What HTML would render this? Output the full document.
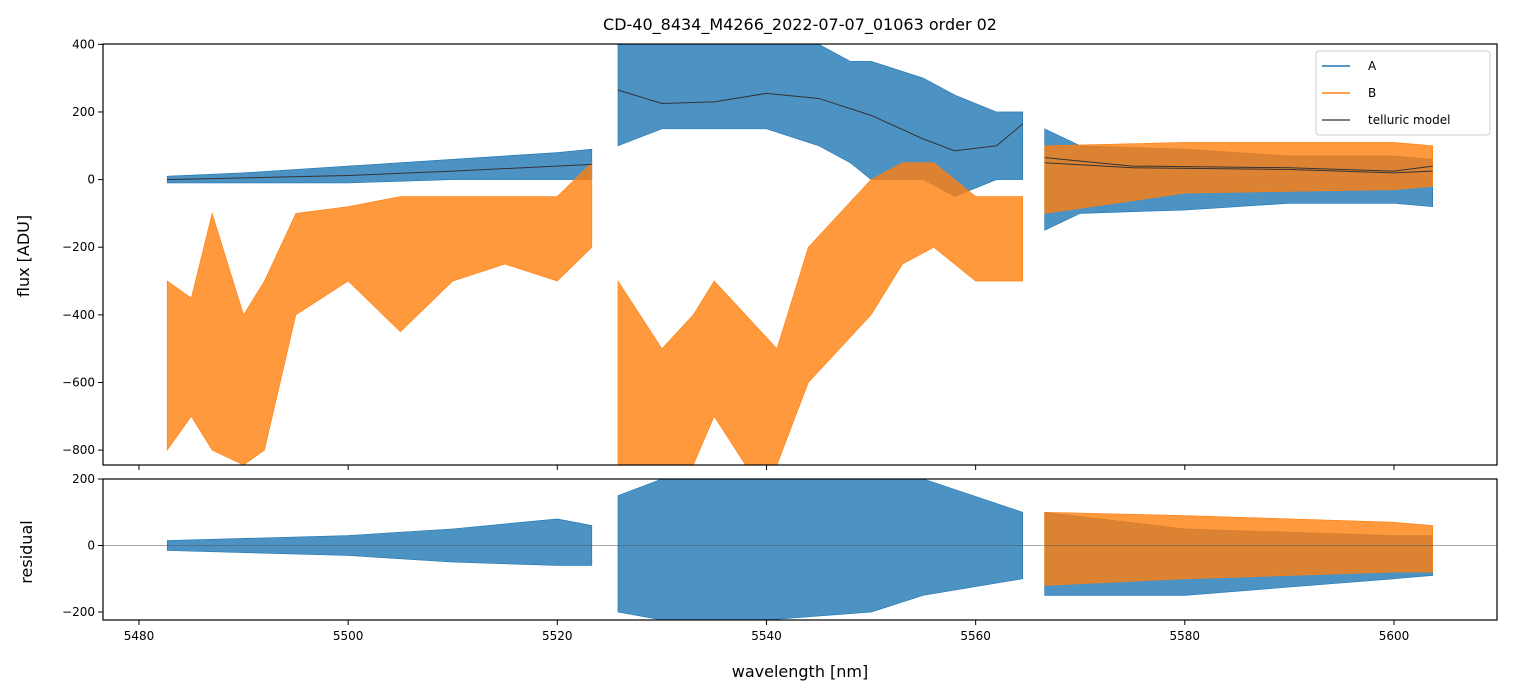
<!DOCTYPE html>
<html><head><meta charset="utf-8"><style>
body{margin:0;background:#fff;font-family:"Liberation Sans","DejaVu Sans",sans-serif}
svg{display:block}
text{font-family:"DejaVu Sans","Liberation Sans",sans-serif}
</style></head><body>
<svg id="c" width="1513" height="696">
<text x="800" y="30" text-anchor="middle" font-size="16">CD-40_8434_M4266_2022-07-07_01063  order 02</text>
<text x="800" y="677" text-anchor="middle" font-size="16">wavelength [nm]</text>
<text transform="translate(29,256) rotate(-90)" text-anchor="middle" font-size="16">flux [ADU]</text>
<text transform="translate(32,552) rotate(-90)" text-anchor="middle" font-size="16">residual</text>
</svg>
<script>
// ---- data ----
const xTicks=[5480,5500,5520,5540,5560,5580,5600];
const yTicksTop=[400,200,0,-200,-400,-600,-800];
const yTicksBot=[200,0,-200];
// envelopes: [wavelength, low, high]
const aTop=[
 [[5482.7,-10,10],[5490,-10,20],[5500,-10,40],[5510,0,60],[5520,0,80],[5523.3,0,90]],
 [[5525.8,100,400],[5530,150,400],[5535,150,400],[5540,150,400],[5545,100,400],[5548,50,350],[5550,0,350],[5555,0,300],[5558,-50,250],[5562,0,200],[5564.5,0,200]],
 [[5566.6,-150,150],[5570,-100,100],[5580,-90,90],[5590,-70,70],[5600,-70,70],[5603.7,-80,60]]
];
const bTop=[
 [[5482.7,-800,-300],[5485,-700,-350],[5487,-800,-100],[5490,-844,-400],[5492,-800,-300],[5495,-400,-100],[5500,-300,-80],[5505,-450,-50],[5510,-300,-50],[5515,-250,-50],[5520,-300,-50],[5523.3,-200,50]],
 [[5525.8,-844,-300],[5530,-844,-500],[5533,-844,-400],[5535,-700,-300],[5538,-844,-400],[5541,-844,-500],[5544,-600,-200],[5547,-500,-100],[5550,-400,0],[5553,-250,50],[5556,-200,50],[5560,-300,-50],[5564.5,-300,-50]],
 [[5566.6,-100,100],[5580,-40,110],[5600,-30,110],[5603.7,-20,100]]
];
const modelLines=[
 [[5482.7,0],[5500,12],[5510,25],[5523.3,45]],
 [[5525.8,265],[5530,225],[5535,230],[5540,255],[5545,240],[5550,190],[5555,120],[5558,85],[5562,100],[5564.5,165]],
 [[5566.6,65],[5575,40],[5590,35],[5600,25],[5603.7,40]],
 [[5566.6,50],[5575,35],[5590,30],[5600,20],[5603.7,25]]
];
const aRes=[
 [[5482.7,-15,15],[5500,-30,30],[5510,-50,50],[5520,-60,80],[5523.3,-60,60]],
 [[5525.8,-200,150],[5530,-224,200],[5540,-224,200],[5550,-200,200],[5555,-150,200],[5564.5,-100,100]],
 [[5566.6,-150,100],[5580,-150,50],[5600,-100,30],[5603.7,-90,30]]
];
const bRes=[
 [[5566.6,-120,100],[5580,-100,90],[5600,-80,70],[5603.7,-80,60]]
];
// ---- axes ----
const X0=103,X1=1497,xmin=5476.56,xmax=5609.85;
const T0=44,T1=465,tmin=-844,tmax=401;
const B0=479,B1=620,bmin=-224,bmax=200;
const sx=v=>X0+(v-xmin)/(xmax-xmin)*(X1-X0);
const st=v=>T1-(v-tmin)/(tmax-tmin)*(T1-T0);
const sb=v=>B1-(v-bmin)/(bmax-bmin)*(B1-B0);
const svg=document.getElementById('c'),NS='http://www.w3.org/2000/svg';
function mk(tag,at,parent){const e=document.createElementNS(NS,tag);for(const k in at)e.setAttribute(k,at[k]);(parent||svg).appendChild(e);return e;}
const defs=mk('defs',{});
const cp1=mk('clipPath',{id:'ct'},defs);mk('rect',{x:X0,y:T0,width:X1-X0,height:T1-T0},cp1);
const cp2=mk('clipPath',{id:'cb'},defs);mk('rect',{x:X0,y:B0,width:X1-X0,height:B1-B0},cp2);
function band(seg,sy,color,clip,name){
 let d='M'+seg.map(p=>sx(p[0])+','+sy(p[2])).join('L');
 d+='L'+seg.slice().reverse().map(p=>sx(p[0])+','+sy(p[1])).join('L')+'Z';
 const e=mk('path',{d:d,fill:color,'fill-opacity':0.8,stroke:color,'stroke-width':0.6,'clip-path':'url(#'+clip+')'});
 
 
}
aTop.forEach((s,i)=>band(s,st,'#1f77b4','ct','series-a-segment-'+(i+1)));
bTop.forEach((s,i)=>band(s,st,'#ff7f0e','ct','series-b-segment-'+(i+1)));
modelLines.forEach((s,i)=>{
 const e=mk('polyline',{points:s.map(p=>sx(p[0])+','+st(p[1])).join(' '),fill:'none',stroke:'#333','stroke-width':1,'clip-path':'url(#ct)'});
 
 
});
aRes.forEach((s,i)=>band(s,sb,'#1f77b4','cb','residual-a-segment-'+(i+1)));
bRes.forEach((s,i)=>band(s,sb,'#ff7f0e','cb','residual-b-segment-'+(i+1)));
const zl=mk('line',{x1:X0,x2:X1,y1:sb(0),y2:sb(0),stroke:'#555','stroke-width':0.6});


[[T0,T1,'top-plot-frame'],[B0,B1,'residual-plot-frame']].forEach(f=>{
 const r=mk('rect',{x:X0,y:f[0],width:X1-X0,height:f[1]-f[0],fill:'none',stroke:'#000','stroke-width':1.2});
 
 
});
xTicks.forEach(v=>{
 const x=sx(v);
 mk('line',{x1:x,x2:x,y1:T1,y2:T1+5,stroke:'#000'});
 mk('line',{x1:x,x2:x,y1:B1,y2:B1+5,stroke:'#000'});
 const t=mk('text',{x:x,y:B1+20,'text-anchor':'middle','font-size':12});t.textContent=v;
 
 
});
yTicksTop.forEach(v=>{
 const y=st(v);mk('line',{x1:X0-5,x2:X0,y1:y,y2:y,stroke:'#000'});
 const t=mk('text',{x:X0-8,y:y+4,'text-anchor':'end','font-size':12});t.textContent=v<0?'\u2212'+(-v):v;
 
 
});
yTicksBot.forEach(v=>{
 const y=sb(v);mk('line',{x1:X0-5,x2:X0,y1:y,y2:y,stroke:'#000'});
 const t=mk('text',{x:X0-8,y:y+4,'text-anchor':'end','font-size':12});t.textContent=v<0?'\u2212'+(-v):v;
 
 
});
const lg=mk('g',{});


mk('rect',{x:1316,y:51,width:174,height:84,rx:3,fill:'#fff','fill-opacity':0.8,stroke:'#ccc'},lg);
[['A','#1f77b4'],['B','#ff7f0e'],['telluric model','#555']].forEach((l,i)=>{
 const y=66+i*27;
 mk('line',{x1:1322,x2:1350,y1:y,y2:y,stroke:l[1],'stroke-width':1.5},lg);
 const t=mk('text',{x:1368,y:y+4,'font-size':12},lg);t.textContent=l[0];
 
 
});
</script>
</body></html>
